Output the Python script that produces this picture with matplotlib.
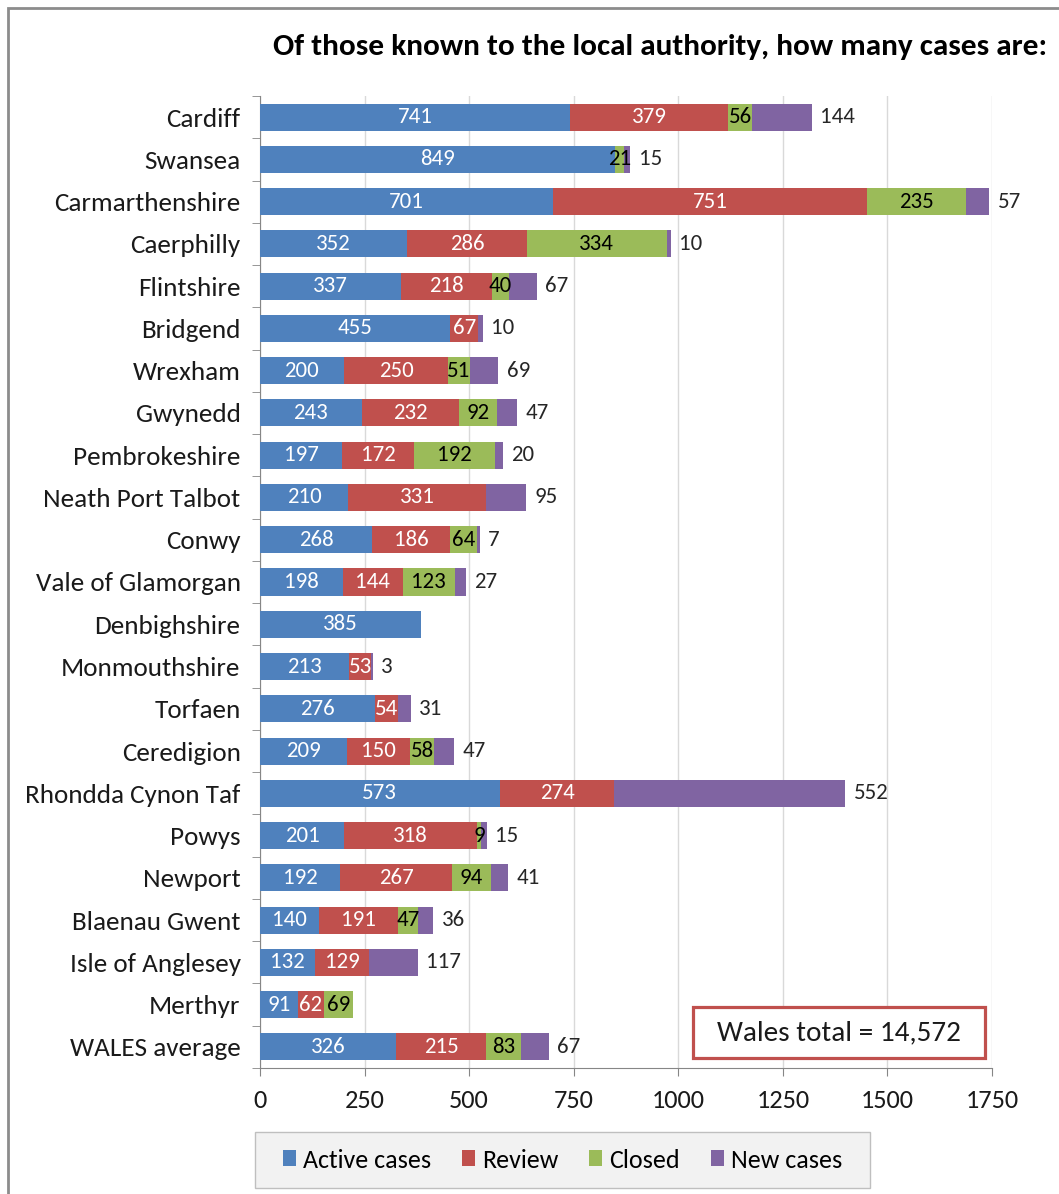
import numpy as np
import matplotlib
matplotlib.use('Agg')
import matplotlib.pyplot as plt
from matplotlib.patches import Rectangle

# data (top to bottom)
categories = ['Cardiff', 'Swansea', 'Carmarthenshire', 'Caerphilly', 'Flintshire',
              'Bridgend', 'Wrexham', 'Gwynedd', 'Pembrokeshire', 'Neath Port Talbot',
              'Conwy', 'Vale of Glamorgan', 'Denbighshire', 'Monmouthshire', 'Torfaen',
              'Ceredigion', 'Rhondda Cynon Taf', 'Powys', 'Newport', 'Blaenau Gwent',
              'Isle of Anglesey', 'Merthyr', 'WALES average']
active = [741, 849, 701, 352, 337, 455, 200, 243, 197, 210, 268, 198, 385, 213, 276,
          209, 573, 201, 192, 140, 132, 91, 326]
review = [379, 0, 751, 286, 218, 67, 250, 232, 172, 331, 186, 144, 0, 53, 54,
          150, 274, 318, 267, 191, 129, 62, 215]
closed = [56, 21, 235, 334, 40, 0, 51, 92, 192, 0, 64, 123, 0, 0, 0,
          58, 0, 9, 94, 47, 0, 69, 83]
new_cases = [144, 15, 57, 10, 67, 10, 69, 47, 20, 95, 7, 27, 0, 3, 31,
             47, 552, 15, 41, 36, 117, 0, 67]
series_names = ['Active cases', 'Review', 'Closed', 'New cases']
x_ticks = [0, 250, 500, 750, 1000, 1250, 1500, 1750]
total_text = 'Wales total = 14,572'
title = 'Of those known to the local authority, how many cases are:'

colors = ['#4F81BD', '#C0504D', '#9BBB59', '#8064A2']
label_colors = ['white', 'white', 'black', None]

plt.rcParams['font.family'] = ['Carlito', 'Open Sans', 'DejaVu Sans']

fig = plt.figure(figsize=(10.59, 11.94), dpi=100)
ax = fig.add_axes([260 / 1059, 126 / 1194, 732 / 1059, 972 / 1194])

y = np.arange(len(categories))
left = np.zeros(len(categories))
for name, vals, col, lc in zip(series_names, [active, review, closed, new_cases],
                               colors, label_colors):
    vals = np.array(vals, dtype=float)
    bars = ax.barh(y, vals, left=left, height=0.64, color=col, label=name, zorder=3)
    if lc is not None:
        for b, v in zip(bars, vals):
            if v > 0:
                ax.text(b.get_x() + b.get_width() / 2, b.get_y() + b.get_height() / 2,
                        '%d' % v, ha='center', va='center', color=lc, fontsize=16.5,
                        zorder=4)
    left += vals

# new cases labels sit just past the end of each bar
for yi, tot, v in zip(y, left, new_cases):
    if v > 0:
        ax.annotate('%d' % v, (tot, yi), xytext=(6, 0), textcoords='offset points',
                    ha='left', va='center', fontsize=16.5, color='#262626')

ax.set_ylim(len(categories) - 0.5, -0.5)
ax.set_xlim(0, 1750)
ax.set_yticks(y)
ax.set_yticklabels(categories, fontsize=19.5, color='#1a1a1a')
ax.set_yticks(np.arange(-0.5, len(categories)), minor=True)
ax.tick_params(axis='y', which='major', length=0, pad=14)
ax.tick_params(axis='y', which='minor', length=6, color='#868686')
ax.set_xticks(x_ticks)
ax.set_xticklabels([str(t) for t in x_ticks], fontsize=19, color='#1a1a1a')
ax.tick_params(axis='x', length=6, color='#868686', pad=9)
ax.grid(axis='x', color='#D9D9D9', lw=1, zorder=0)
for s in ['top', 'right']:
    ax.spines[s].set_visible(False)
for s in ['left', 'bottom']:
    ax.spines[s].set_color('#868686')

# "Wales total" box
ax.add_patch(Rectangle((0.5915, 0.0103), 0.3989, 0.0525, transform=ax.transAxes,
                       facecolor='white', edgecolor='#C0504D', lw=2.3, zorder=5,
                       clip_on=False))
ax.text(0.791, 0.0365, total_text, transform=ax.transAxes, ha='center', va='center',
        fontsize=21, color='#1a1a1a', zorder=6)

# legend with its grey box
fig.patches.append(Rectangle((255 / 1059, 6 / 1194), 615 / 1059, 56 / 1194,
                             transform=fig.transFigure, facecolor='#F2F2F2',
                             edgecolor='#BFBFBF', lw=1))
fig.legend(loc='center', bbox_to_anchor=(562.5 / 1059, 34 / 1194), ncol=4,
           fontsize=18.7, frameon=False, handlelength=0.5, handleheight=0.55,
           handletextpad=0.27, columnspacing=1.2)

fig.text(273 / 1059, 1 - 55 / 1194, title, ha='left', va='baseline', fontsize=22.5,
         fontweight='bold', color='black')

fig.patches.append(Rectangle((8 / 1059, -0.01), 1.1, 1 - 8 / 1194 + 0.01,
                             transform=fig.transFigure, fill=False,
                             edgecolor='#8C8C8C', lw=2))

fig.savefig('out.png', dpi=100)
